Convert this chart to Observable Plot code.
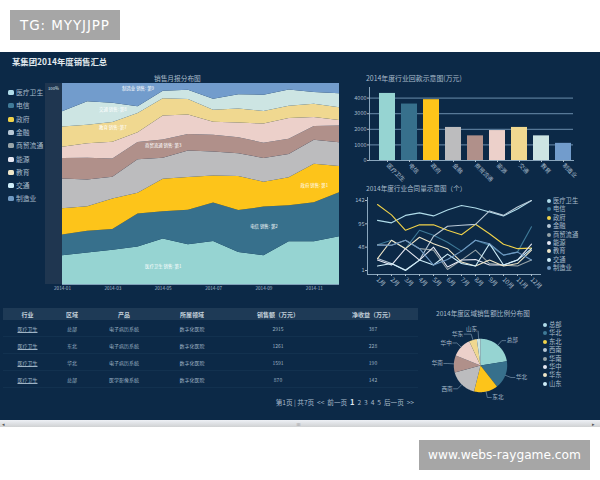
<!DOCTYPE html>
<html><head><meta charset="utf-8">
<script src="https://cdn.jsdelivr.net/npm/d3@7"></script>
<script src="https://cdn.jsdelivr.net/npm/@observablehq/plot@0.6"></script>
<style>
html,body{margin:0;padding:0;background:#fff;width:600px;height:480px;overflow:hidden;font-family:"Noto Sans CJK SC","Noto Sans",sans-serif}
.abs{position:absolute}
#dash{position:absolute;left:0;top:52px;width:600px;height:368px;background:#0c2947}
.wm{position:absolute;background:#a6a6a6;color:#fff;display:flex;align-items:center;justify-content:center;font-family:"DejaVu Sans";white-space:nowrap}
.t{position:absolute;color:#a9bccb;white-space:nowrap;line-height:1}
.chart{position:absolute}
.chart svg{display:block;overflow:visible}
table{position:absolute;left:3px;top:308px;width:415px;border-collapse:collapse;table-layout:fixed;color:#9fb3c4;font-size:5px}
th{background:#1e3a56;height:12px;padding:0;font-size:6px;color:#c3d0da;font-weight:700}
td{height:16px;padding:0;text-align:center;border-bottom:1px solid #12314f;line-height:1}
td:first-child{text-decoration:underline}
</style></head><body>
<div class="wm" style="left:10px;top:10px;width:110px;height:30px;font-size:13.5px;letter-spacing:.9px">TG: MYYJJPP</div>
<div class="wm" style="left:419px;top:440px;width:171px;height:30px;font-size:12.2px">www.webs-raygame.com</div>
<div id="dash"></div>
<div class="abs" style="left:45px;top:83px;width:17px;height:201px;background:#1f3650"></div>
<div class="abs" style="left:0;top:420px;width:600px;height:7px;background:linear-gradient(#eef1f6,#cfd1d3)"></div>
<div class="t" style="left:296px;top:421px;font-size:5px;color:#777">≡</div>
<div class="t" style="left:2px;top:421px;font-size:5px;color:#555">◂</div>
<div class="t" style="left:592px;top:421px;font-size:5px;color:#555">▸</div>
<div id="root"></div>
<script>
const industries = ["医疗卫生","电信","政府","金融","商贸流通","能源","教育","交通","制造业"];
const fills = ["#96d4d2","#37708c","#fdc41a","#bcbcbe","#b0908a","#ecd0ca","#f0d890","#cde5e3","#729ccc"];
const legendColors = ["#b0dcea","#3f7a98","#f0d24a","#b8c8d6","#98a4a8","#e6e7f2","#efe6c8","#cfeefa","#7099c2"];
const months = ["2014-01","2014-02","2014-03","2014-04","2014-05","2014-06","2014-07","2014-08","2014-09","2014-10","2014-11","2014-12"];
const share医疗 = [14.3,15.6,17.1,18.7,22.6,19.7,21.4,15.9,14.3,21.2,21.2,23.7];
const share电信 = [10.3,10.9,10.3,16.3,13.6,17.2,19.2,20.9,24.2,17.9,19.4,21.9];
const share政府 = [13.1,12.1,15.1,10.3,16.1,16.3,13.4,16.9,12.4,13.9,19.2,13.1];
const share金融 = [14.8,13.4,10.9,16.7,10.4,13.1,11.9,11.3,11.8,11.6,11.9,11.8];
const share商贸 = [10.3,10.8,9.1,8.6,9.1,8.3,8.3,8.0,7.6,7.6,6.8,8.3];
const share能源 = [5.6,7.1,8.3,4.8,11.9,9.6,6.5,7.3,9.5,10.3,4.5,2.8];
const share教育 = [10.0,9.3,9.8,9.6,8.6,7.8,6.0,7.0,6.3,6.1,6.6,6.3];
const share交通 = [7.6,11.6,9.6,3.3,3.8,4.6,5.5,7.1,8.1,8.1,5.8,7.0];
const share制造 = [14.1,9.1,9.8,11.6,3.8,3.3,7.8,5.6,5.8,3.2,4.5,5.1];
const shares = [share医疗,share电信,share政府,share金融,share商贸,share能源,share教育,share交通,share制造];
const areaNotes = ["医疗卫生 销售: 第1","电信 销售: 第2","政府 销售: 第1","商贸流通 销售: 第3","教育 销售: 第7","交通 销售: 第8","制造业 销售: 第9"];
const areaNoteMonth = [4,8,10,4,2,2,3];
const areaNoteLevel = [0.09,0.29,0.49,0.69,0.78,0.87,0.975];

const barLabels = ["医疗卫生","电信","政府","金融","商贸流通","能源","交通","教育","制造业"];
const barValues = [4300,3620,3900,2120,1580,1920,2120,1580,1100];
const barFills = fills;

const lineMonths = ["1月","2月","3月","4月","5月","6月","7月","8月","9月","10月","11月","12月"];
const line医疗 = [102,97,112,117,111,123,132,127,119,111,125,142];
const line电信 = [53,62,45,82,72,58,40,62,52,32,38,89];
const line政府 = [134,113,82,93,93,82,73,94,75,54,45,46];
const line金融 = [25,15,2,22,70,90,92,94,121,112,129,142];
const line商贸 = [53,52,62,45,42,3,22,42,15,12,10,22];
const line能源 = [22,12,45,22,48,8,22,23,12,12,22,54];
const line教育 = [25,62,45,68,55,45,18,10,22,10,15,42];
const line交通 = [10,15,1,22,12,34,15,10,55,12,22,45];
const line制造 = [52,52,62,45,12,23,40,62,55,32,38,22];
const lineSeries = [line医疗,line电信,line政府,line金融,line商贸,line能源,line教育,line交通,line制造];
const lineTicks = [1,48,95,142];

const tableHead = ["行业","区域","产品","所属领域","销售额（万元）","净收益（万元）"];
const tableRows = [
 ["医疗卫生","总部","电子病历系统","数字化医院","2915","387"],
 ["医疗卫生","东北","电子病历系统","数字化医院","1261","228"],
 ["医疗卫生","华北","电子病历系统","数字化医院","1591","190"],
 ["医疗卫生","总部","医学影像系统","数字化医院","870","142"]];
const pager = "第1页 | 共7页  <<  前一页  ";
const pagerAfter = "  2  3  4  5  后一页  >>";

const regions = ["总部","华北","东北","西南","华南","华中","华东","山东"];
const regionValues = [81,61,52,61,37,43,17,8];
const regionFills = ["#96d4d2","#37708c","#fdc41a","#bcbcbe","#b0908a","#ecd0ca","#f0d890","#cde5e3"];
const regionLegend = ["#b0dcea","#3f7a98","#f0d24a","#b8c8d6","#98a4a8","#e6e7f2","#efe6c8","#cfeefa"];

const font = '"Noto Sans CJK SC","Noto Sans",sans-serif';
const root = document.getElementById("root");
function place(node,l,t){const d=document.createElement("div");d.className="chart";d.style.left=l+"px";d.style.top=t+"px";d.appendChild(node);root.appendChild(d);}
function label(txt,l,t,size,extra){const d=document.createElement("div");d.className="t";d.textContent=txt;d.style.left=l+"px";d.style.top=t+"px";d.style.fontSize=size+"px";if(extra)Object.assign(d.style,extra);root.appendChild(d);return d;}
const style = {background:"transparent",color:"#a9bccb",fontFamily:font};

/* titles */
label("某集团2014年度销售汇总",12,57,8.4,{fontWeight:700,color:"#e2e9ee"});
label("销售月报分布图",154,75,6.7);
label("2014年度行业回款示意图(万元)",366,75,6.9);
label("2014年度行业合同量示意图（个）",366,185,6.6);
label("2014年度区域销售额比例分布图",436,310,6.6);
label("100%",48,86,4.2,{color:"#dfe7ee"});

/* legend of the area chart */
industries.forEach((n,i)=>{
  const sw=document.createElement("div");sw.className="abs";
  Object.assign(sw.style,{left:"8px",top:(90+i*13.3)+"px",width:"6px",height:"5px",borderRadius:"1.5px",background:legendColors[i]});
  root.appendChild(sw);
  label(n,16,89+i*13.3,6.8);
});

/* stacked area */
const areaRows = industries.flatMap((name,s)=>shares[s].map((v,i)=>({name,i,v})));
place(Plot.plot({
  width:350,height:225,marginLeft:62,marginRight:11,marginTop:13,marginBottom:11,style,
  x:{type:"linear",domain:[0,11],label:null},
  y:{domain:[0,1],label:null,axis:null},
  color:{domain:industries,range:fills},
  marks:[
    Plot.areaY(areaRows,{x:"i",y:"v",fill:"name",offset:"normalize"}),
    Plot.ruleY([0],{stroke:"#7fa0b8"}),
    Plot.axisX({ticks:[0,2,4,6,8,10],tickFormat:i=>months[i],tickSize:0,tickPadding:2,fontSize:4.6,label:null}),
    Plot.text(areaNotes,{x:(d,i)=>areaNoteMonth[i],y:(d,i)=>areaNoteLevel[i],text:d=>d,fill:"#fff",fontSize:4.4})
  ]
}),0,70);

/* bars */
place(Plot.plot({
  width:230,height:115,marginLeft:19,marginRight:7,marginTop:27,marginBottom:15,insetLeft:7.7,style,
  x:{domain:barLabels,paddingInner:0.28,paddingOuter:0,label:null},
  y:{domain:[0,4680],label:null},
  color:{domain:barLabels,range:barFills},
  marks:[
    Plot.gridY([1000,2000,3000,4000],{stroke:"#6b8dac",strokeOpacity:1}),
    Plot.barY(barLabels,{x:d=>d,y:(d,i)=>barValues[i],fill:d=>d}),
    Plot.frame({anchor:"left",stroke:"#8aa6bd"}),
    Plot.frame({anchor:"bottom",stroke:"#8aa6bd"}),
    Plot.axisY({ticks:[0,1000,2000,3000,4000],tickFormat:"d",tickSize:2,tickPadding:1,fontSize:5.5,label:null}),
    Plot.axisX({tickRotate:45,tickSize:2,tickPadding:2,fontSize:5.8,label:null})
  ]
}),350,60);

/* lines */
const lineRows = industries.flatMap((name,s)=>lineSeries[s].map((v,i)=>({name,m:lineMonths[i],v})));
place(Plot.plot({
  width:195,height:100,marginLeft:17,marginRight:5,marginTop:7,marginBottom:16,insetLeft:2,insetRight:1.5,insetTop:3,insetBottom:4,style,
  x:{type:"point",domain:lineMonths,label:null},
  y:{domain:[1,142],label:null},
  color:{domain:industries,range:legendColors},
  marks:[
    Plot.frame({anchor:"left",stroke:"#8aa6bd"}),
    Plot.frame({anchor:"bottom",stroke:"#8aa6bd"}),
    Plot.lineY(lineRows,{x:"m",y:"v",stroke:"name",strokeWidth:1.1}),
    Plot.axisY({ticks:lineTicks,tickSize:2,tickPadding:1,fontSize:5.6,label:null}),
    Plot.axisX({tickRotate:45,tickSize:2,tickPadding:2,fontSize:6.2,label:null})
  ]
}),350,190);

function dotLegend(names,cols,top,left){
  names.forEach((n,i)=>{
    const sw=document.createElement("div");sw.className="abs";
    Object.assign(sw.style,{left:left+"px",top:(top+i*8.4-2)+"px",width:"4px",height:"4px",borderRadius:"50%",background:cols[i]});
    root.appendChild(sw);
    label(n,left+6,top+i*8.4-3,6.3);
  });
}
dotLegend(industries,legendColors,201,547);
dotLegend(regions,regionLegend,325,543);

/* table */
const tbl=document.createElement("table");
const widths=[49,40,64,72,100,90];
tbl.innerHTML='<colgroup>'+widths.map(w=>`<col style="width:${w}px">`).join("")+'</colgroup><tr>'+tableHead.map(h=>`<th>${h}</th>`).join("")+'</tr>'+
  tableRows.map(r=>'<tr>'+r.map(c=>`<td>${c}</td>`).join("")+'</tr>').join("");
root.appendChild(tbl);
const pg=label("",0,398,6.6,{left:"auto",right:"186px",whiteSpace:"pre"});
pg.innerHTML=pager.replace("<<","&lt;&lt;")+'<b style="font-size:7.5px;color:#dfe7ee">1</b>'+pagerAfter.replace(">>","&gt;&gt;");

/* pie, drawn as filled lines on linear scales */
const R=26.7;
const reach=[6,6,6,6,6,6,6,8];
const hook=[4,4,4,4,4,4,7,0];
const arcs=d3.pie().sort(null)(regionValues);
const wedgeRows=arcs.flatMap((a,k)=>{
  const pts=[{name:regions[k],px:0,py:0}];
  const n=Math.ceil((a.endAngle-a.startAngle)/0.03);
  for(let j=0;j<=n;j++){const t=a.startAngle+(a.endAngle-a.startAngle)*j/n;pts.push({name:regions[k],px:R*Math.sin(t),py:R*Math.cos(t)});}
  pts.push({name:regions[k],px:0,py:0});
  return pts;
});
const leaders=arcs.flatMap((a,k)=>{
  const t=(a.startAngle+a.endAngle)/2,s=Math.sin(t)>=0?1:-1;
  const ex=(R+reach[k])*Math.sin(t),ey=(R+reach[k])*Math.cos(t);
  return [{name:regions[k],px:R*Math.sin(t),py:R*Math.cos(t)},{name:regions[k],px:ex,py:ey},{name:regions[k],px:ex+s*hook[k],py:ey}];
});
const tags=arcs.map((a,k)=>{
  const t=(a.startAngle+a.endAngle)/2,s=Math.sin(t)>=0?1:-1;
  return {name:regions[k],px:(R+reach[k])*Math.sin(t)+s*(hook[k]+1),py:(R+reach[k])*Math.cos(t)+(hook[k]?0:2),side:s>0?"start":"end"};
});
place(Plot.plot({
  width:120,height:100,margin:0,style,
  x:{domain:[-60,60],axis:null},
  y:{domain:[-50,50],axis:null},
  color:{domain:regions,range:regionFills},
  marks:[
    Plot.line(wedgeRows,{x:"px",y:"py",z:"name",fill:"name",stroke:"none",curve:"linear"}),
    Plot.line(leaders,{x:"px",y:"py",z:"name",stroke:"#8aa6bd",strokeWidth:0.6}),
    Plot.text(tags.filter(d=>d.side==="start"),{x:"px",y:"py",text:"name",fill:"#a9bccb",fontSize:5.6,textAnchor:"start"}),
    Plot.text(tags.filter(d=>d.side==="end"),{x:"px",y:"py",text:"name",fill:"#a9bccb",fontSize:5.6,textAnchor:"end"})
  ]
}),420,315);
</script>
</body></html>
